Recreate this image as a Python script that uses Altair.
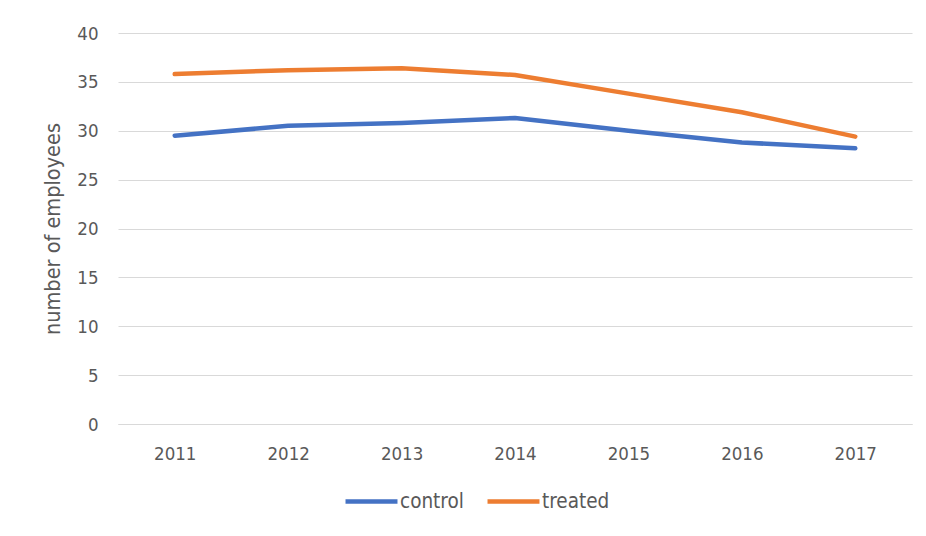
import altair as alt
import pandas as pd

years = ["2011", "2012", "2013", "2014", "2015", "2016", "2017"]
control = [29.5, 30.5, 30.8, 31.3, 30.0, 28.8, 28.2]
treated = [35.8, 36.2, 36.4, 35.7, 33.8, 31.9, 29.4]
series_names = ["control", "treated"]
series_colors = ["#4472C4", "#ED7D31"]

rows = []
for name, vals in zip(series_names, [control, treated]):
    for y, v in zip(years, vals):
        rows.append({"year": y, "series": name, "value": v})
df = pd.DataFrame(rows)

FONT = "DejaVu Sans Condensed, Liberation Sans Narrow, Roboto, sans-serif"
TXT = "#595959"

chart = alt.Chart(df).mark_line(strokeWidth=4.5, strokeCap="round", strokeJoin="round").encode(
    x=alt.X("year:N", sort=years, title=None,
            scale=alt.Scale(paddingInner=0, paddingOuter=0.5),
            axis=alt.Axis(labelAngle=0, ticks=False, domain=True, domainColor="#D9D9D9",
                          labelPadding=20, labelFontSize=18.5, labelColor=TXT, labelFont=FONT,
                          grid=False)),
    y=alt.Y("value:Q", title="number of employees",
            scale=alt.Scale(domain=[0, 40], nice=False),
            axis=alt.Axis(values=[0, 5, 10, 15, 20, 25, 30, 35, 40], ticks=False, domain=False,
                          gridColor="#D9D9D9", gridWidth=1, labelPadding=20,
                          labelFontSize=18.5, labelColor=TXT, labelFont=FONT,
                          titleFontSize=21.5, titleColor=TXT, titleFont=FONT,
                          titleFontWeight="normal", titlePadding=12)),
    color=alt.Color("series:N", sort=series_names,
                    scale=alt.Scale(domain=series_names, range=series_colors),
                    legend=alt.Legend(title=None, orient="none", direction="horizontal",
                                      legendX=225, legendY=440,
                                      symbolType="stroke", symbolSize=2700, symbolStrokeWidth=4.5,
                                      labelFontSize=20.5, labelColor=TXT, labelFont=FONT,
                                      labelOffset=0, columnPadding=14)),
).properties(
    width=794, height=391,
    padding={"left": 118, "top": 33, "right": 14, "bottom": 112},
    autosize=alt.AutoSizeParams(type="none"),
).configure_view(stroke=None)

chart.save("out.html", embed_options={"renderer": "svg", "actions": False})
